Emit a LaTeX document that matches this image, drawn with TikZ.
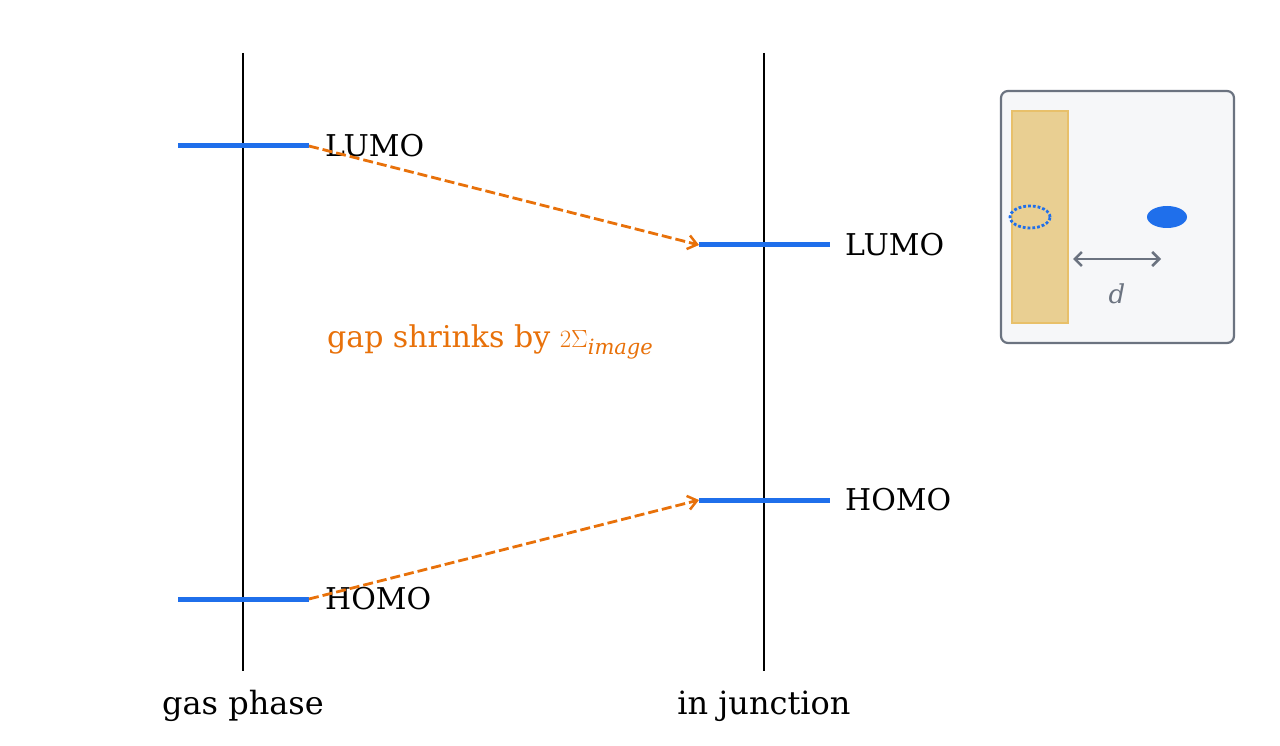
\documentclass[tikz,border=0pt]{standalone}
\usepackage{fontspec}
\setmainfont{DejaVu Serif}
\usetikzlibrary{arrows.meta}
\definecolor{lvl}{HTML}{1F6FEB}
\definecolor{org}{HTML}{E8710A}
\definecolor{gry}{HTML}{6B7380}
\definecolor{gold}{HTML}{E9CF92}
\definecolor{goldb}{HTML}{E8C06A}
\definecolor{bgc}{HTML}{F6F7F9}
\begin{document}
\begin{tikzpicture}[x=1pt,y=-1pt,
  lev/.style={lvl,line width=5pt},
  axis/.style={black,line width=2.5pt},
  lvshift/.style={org,line width=2.8pt,dash pattern=on 10pt off 4pt,-{Straight Barb[length=9pt,width=14pt,line width=2.5pt]}},
  lab/.style={anchor=west,inner sep=0pt,font=\fontsize{30}{30}\selectfont},
  xlab/.style={inner sep=0pt,font=\fontsize{32}{32}\selectfont}]
\useasboundingbox (0,0) rectangle (1280,746);
\draw[axis] (243,53) -- (243,671);
\draw[axis] (764,53) -- (764,671);
\coordinate (gl1) at (178,146); \coordinate (gl2) at (309,146);
\coordinate (gh1) at (178,599); \coordinate (gh2) at (309,599);
\coordinate (jl1) at (699,245); \coordinate (jl2) at (830,245);
\coordinate (jh1) at (699,500); \coordinate (jh2) at (830,500);
\draw[lev] (gl1) -- (gl2);
\draw[lev] (gh1) -- (gh2);
\draw[lev] (jl1) -- (jl2);
\draw[lev] (jh1) -- (jh2);
\node[lab] (l1) at (325,146) {LUMO};
\node[lab] (h1) at (325,599) {HOMO};
\node[lab] (l2) at (845,245) {LUMO};
\node[lab] (h2) at (845,500) {HOMO};
\draw[lvshift] (gl2) -- (jl1);
\draw[lvshift] (gh2) -- (jh1);
\node[lab,org] (gap) at (327,342) {gap shrinks by $2\Sigma_{\mathit{image}}$};
\node[xlab] (gp) at (243,706) {gas phase};
\node[xlab] (ij) at (764,706) {in junction};
% inset
\draw[gry,fill=bgc,line width=2.2pt,rounded corners=7pt] (1001,91) rectangle (1234,343);
\draw[goldb,fill=gold,line width=1.5pt] (1012,111) rectangle (1068,323);
\draw[lvl,line width=2.8pt,dotted] (1030,217) ellipse (20pt and 11pt);
\fill[lvl] (1167,217) ellipse (20pt and 11pt);
\coordinate (a1) at (1073,259); \coordinate (a2) at (1161,259);
\draw[gry,line width=2.5pt,{Straight Barb[length=7pt,width=14pt]}-{Straight Barb[length=7pt,width=14pt]}] (a1) -- (a2);
\node[gry,font=\fontsize{26}{26}\selectfont\itshape] (d) at (1117,294) {d};
\end{tikzpicture}
\end{document}
